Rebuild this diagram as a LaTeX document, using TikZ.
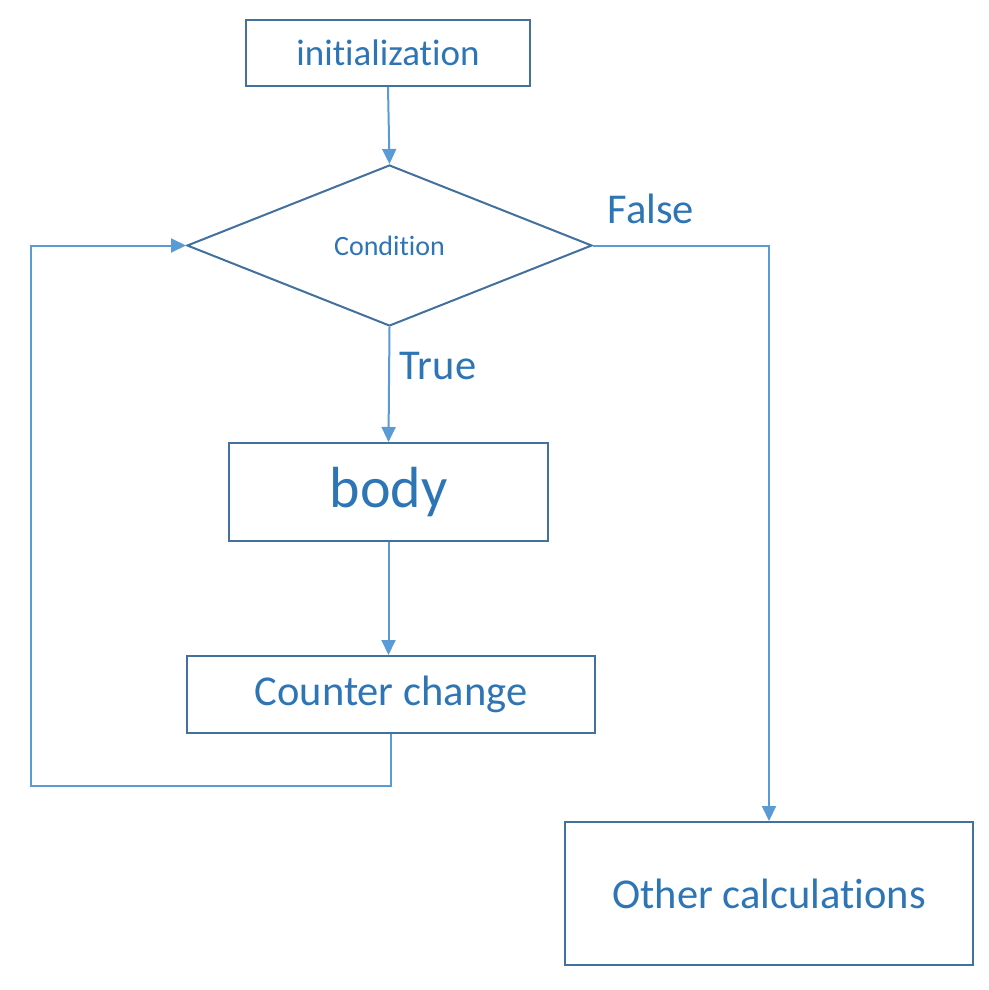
\documentclass[tikz,border=0pt]{standalone}
\usepackage{fontspec}
\setmainfont[Ligatures=NoCommon]{Carlito}
\usetikzlibrary{shapes.geometric,arrows.meta}
\definecolor{boxline}{HTML}{41719C}
\definecolor{connline}{HTML}{5B9BD5}
\definecolor{txt}{HTML}{2E75B6}
\begin{document}
\begin{tikzpicture}[x=1pt,y=-1pt,
  box/.style={draw=boxline,line width=2pt,rectangle,inner sep=0pt,text=txt},
  conn/.style={draw=connline,line width=2pt,-{Triangle[length=15pt,width=14pt]}},
  lbl/.style={text=txt,inner sep=0pt}]
\useasboundingbox[fill=white] (0,0) rectangle (988,990);
\node[box,minimum width=284pt,minimum height=66pt,font=\fontsize{37}{44}\selectfont] (init) at (388,53) {initialization};
\node[draw=boxline,line width=2pt,diamond,aspect=2.5,minimum width=405pt,minimum height=161pt,inner sep=0pt,text=txt,font=\fontsize{28}{34}\selectfont] (cond) at (389.5,245.5) {Condition};
\node[box,minimum width=319pt,minimum height=98pt,font=\fontsize{58}{68}\selectfont] (body) at (388.5,492) {body};
\node[box,minimum width=408pt,minimum height=77pt,font=\fontsize{42.5}{50}\selectfont] (cc) at (391,694.5) {Counter change};
\node[box,minimum width=408pt,minimum height=143pt,font=\fontsize{42.5}{50}\selectfont] (other) at (769,893.5) {Other calculations};
\node[lbl,font=\fontsize{42.5}{50}\selectfont] (flbl) at (651,209) {False};
\node[lbl,font=\fontsize{42.5}{50}\selectfont] (tlbl) at (438,366) {True};
\coordinate (loopA) at (31,786);
\draw[conn] (init.south) -- (cond.north);
\draw[conn] (cond.south) -- (body.north);
\draw[conn] (body.south) -- (body.south |- cc.north);
\draw[conn] (cond.east) -| (other.north);
\draw[conn] (cc.south) |- (loopA) |- (cond.west);
\end{tikzpicture}
\end{document}
